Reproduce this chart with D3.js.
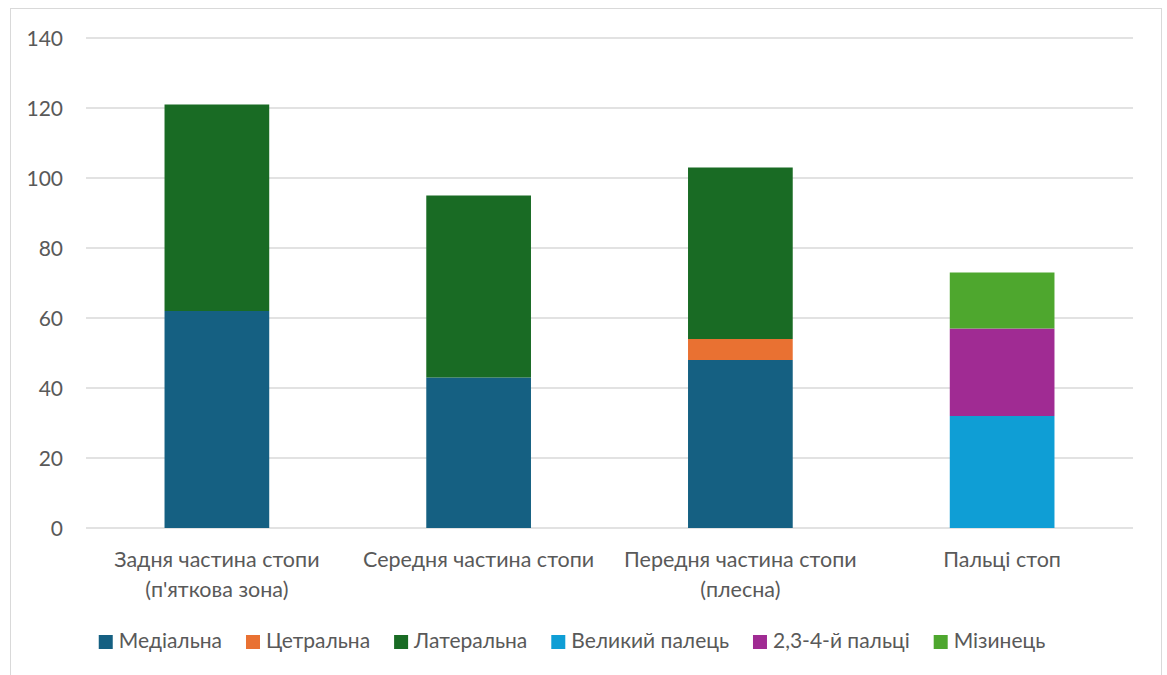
<!DOCTYPE html>
<html lang="uk">
<head>
    <meta charset="UTF-8">
    <title>Chart</title>
    <script src="https://d3js.org/d3.v7.min.js"></script>
    <style>
        body { margin: 0; background: #fff; }
        text { font-family: Lato, "Open Sans", sans-serif; fill: #595959; }
        .grid line { stroke: #d9d9d9; stroke-width: 1.3; }
    </style>
</head>
<body>
<script>
    const width = 1167;
    const height = 675;

    const categories = [
        ["Задня частина стопи", "(п'яткова зона)"],
        ["Середня частина стопи"],
        ["Передня частина стопи", "(плесна)"],
        ["Пальці стоп"]
    ];
    const seriesNames = ["Медіальна", "Цетральна", "Латеральна", "Великий палець", "2,3-4-й пальці", "Мізинець"];
    const colors = ["#156082", "#e97132", "#196b24", "#0f9ed5", "#a02b93", "#4ea72e"];
    // one array per series, values per category
    const medial   = [62, 43, 48, 0];
    const central  = [0, 0, 6, 0];
    const lateral  = [59, 52, 49, 0];
    const bigToe   = [0, 0, 0, 32];
    const toes234  = [0, 0, 0, 25];
    const littleToe = [0, 0, 0, 16];
    const yTicks = [0, 20, 40, 60, 80, 100, 120, 140];

    const series = [medial, central, lateral, bigToe, toes234, littleToe];

    const svg = d3.select("body").append("svg")
        .attr("width", width).attr("height", height);

    // chart border (bottom edge falls outside the picture)
    svg.append("rect")
        .attr("x", 10.5).attr("y", 8.5)
        .attr("width", 1151).attr("height", 700)
        .attr("fill", "none").attr("stroke", "#d9d9d9");

    const plot = {left: 86, right: 1133, top: 38, bottom: 528};

    const x = d3.scaleBand()
        .domain(d3.range(categories.length))
        .range([plot.left, plot.right])
        .paddingInner(0.6).paddingOuter(0.3);

    const y = d3.scaleLinear()
        .domain([0, 140])
        .range([plot.bottom, plot.top]);

    // gridlines
    svg.append("g").attr("class", "grid")
        .selectAll("line").data(yTicks).enter().append("line")
        .attr("x1", plot.left).attr("x2", plot.right)
        .attr("y1", d => y(d)).attr("y2", d => y(d));

    // y labels
    svg.append("g").selectAll("text").data(yTicks).enter().append("text")
        .attr("x", 63).attr("y", d => y(d))
        .attr("dy", "0.36em")
        .attr("text-anchor", "end")
        .attr("font-size", 21)
        .text(d => d);

    // stacked bars
    const rows = categories.map((c, i) => {
        const r = {i: i};
        series.forEach((s, k) => r[k] = s[i]);
        return r;
    });
    const stacked = d3.stack().keys(d3.range(series.length))(rows);

    svg.append("g").selectAll("g").data(stacked).enter().append("g")
        .attr("fill", (d, k) => colors[k])
        .selectAll("rect").data(d => d.filter(p => p[1] > p[0])).enter().append("rect")
        .attr("x", d => x(d.data.i))
        .attr("width", x.bandwidth())
        .attr("y", d => y(d[1]))
        .attr("height", d => y(d[0]) - y(d[1]));

    // category labels
    const catG = svg.append("g").selectAll("text").data(categories).enter().append("text")
        .attr("x", (d, i) => x(i) + x.bandwidth() / 2)
        .attr("y", 567)
        .attr("text-anchor", "middle")
        .attr("font-size", 21.5);
    catG.selectAll("tspan").data(d => d).enter().append("tspan")
        .attr("x", function() { return this.parentNode.getAttribute("x"); })
        .attr("dy", (d, j) => j === 0 ? 0 : 30)
        .text(d => d);

    // legend
    const legend = svg.append("g");
    const items = legend.selectAll("g").data(seriesNames).enter().append("g");
    items.append("rect")
        .attr("width", 14).attr("height", 14)
        .attr("y", -13)
        .attr("fill", (d, k) => colors[k]);
    items.append("text")
        .attr("x", 20)
        .attr("font-size", 21)
        .text(d => d);

    let pos = 0;
    const gap = 24;
    items.each(function() {
        const w = this.getBBox().width;
        d3.select(this).attr("data-x", pos);
        pos += w + gap;
    });
    const total = pos - gap;
    const startX = 572 - total / 2;
    items.attr("transform", function() {
        return `translate(${startX + +this.getAttribute("data-x")},648)`;
    });
</script>
</body>
</html>
